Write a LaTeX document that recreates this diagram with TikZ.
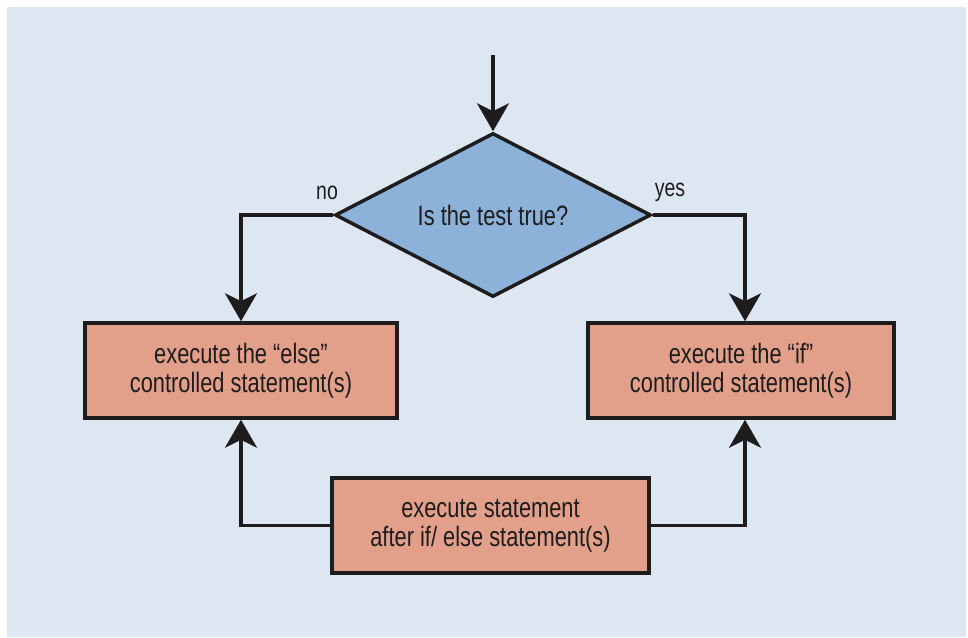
\documentclass[tikz,border=0pt]{standalone}
\usepackage{fontspec}
\setmainfont{Liberation Sans}[FakeStretch=0.78]
\usetikzlibrary{shapes.geometric,arrows.meta,calc}
\definecolor{panel}{HTML}{DDE7F1}
\definecolor{decisionfill}{HTML}{8CB2DA}
\definecolor{actionfill}{HTML}{E2A08A}
\definecolor{ink}{HTML}{1E1C1D}
\begin{document}
\begin{tikzpicture}[x=1pt,y=-1pt,
  every node/.style={text=ink},
  decision/.style={diamond, draw=ink, line width=3.5pt, fill=decisionfill,
    minimum width=316pt, minimum height=164pt, aspect=1.93, inner sep=0pt,
    font=\fontsize{28}{30}\selectfont},
  action/.style={rectangle, draw=ink, line width=3.5pt, fill=actionfill,
    minimum height=95pt, inner sep=0pt, align=center,
    font=\fontsize{28}{29}\selectfont},
  flow/.style={draw=ink, line width=3.5pt,
    -{Stealth[length=28pt, width=32pt, inset=8pt]}},
  branch/.style={font=\fontsize{25}{27}\selectfont, inner sep=0pt}]
  \useasboundingbox (0,0) rectangle (968,637);
  \fill[panel] (7,7) rectangle (966,637);

  % decision and the three statement boxes
  \node[decision] (test) at (493,215) {Is the test true?};
  \node[action, minimum width=312pt] (else) at (241,370.5)
    {execute the “else”\\controlled statement(s)};
  \node[action, minimum width=306pt] (if) at (741,370.5)
    {execute the “if”\\controlled statement(s)};
  \node[action, minimum width=317pt] (after) at (490.5,525.5)
    {execute statement\\after if/ else statement(s)};

  % entry arrow
  \coordinate (entry) at (493,55);
  \draw[flow] (entry) -- (test.north);

  % branches out of the decision
  \draw[flow] (test.west) -| (else.north);
  \draw[flow] (test.east) -| ($(if.north)+(4,0)$);

  % arrows back up from the lower box
  \draw[flow] (after.west) -| (else.south);
  \draw[flow] (after.east) -| ($(if.south)+(4,0)$);

  % branch labels
  \node[branch] (no) at (327,193) {no};
  \node[branch] (yes) at (670,192) {yes};
\end{tikzpicture}
\end{document}
